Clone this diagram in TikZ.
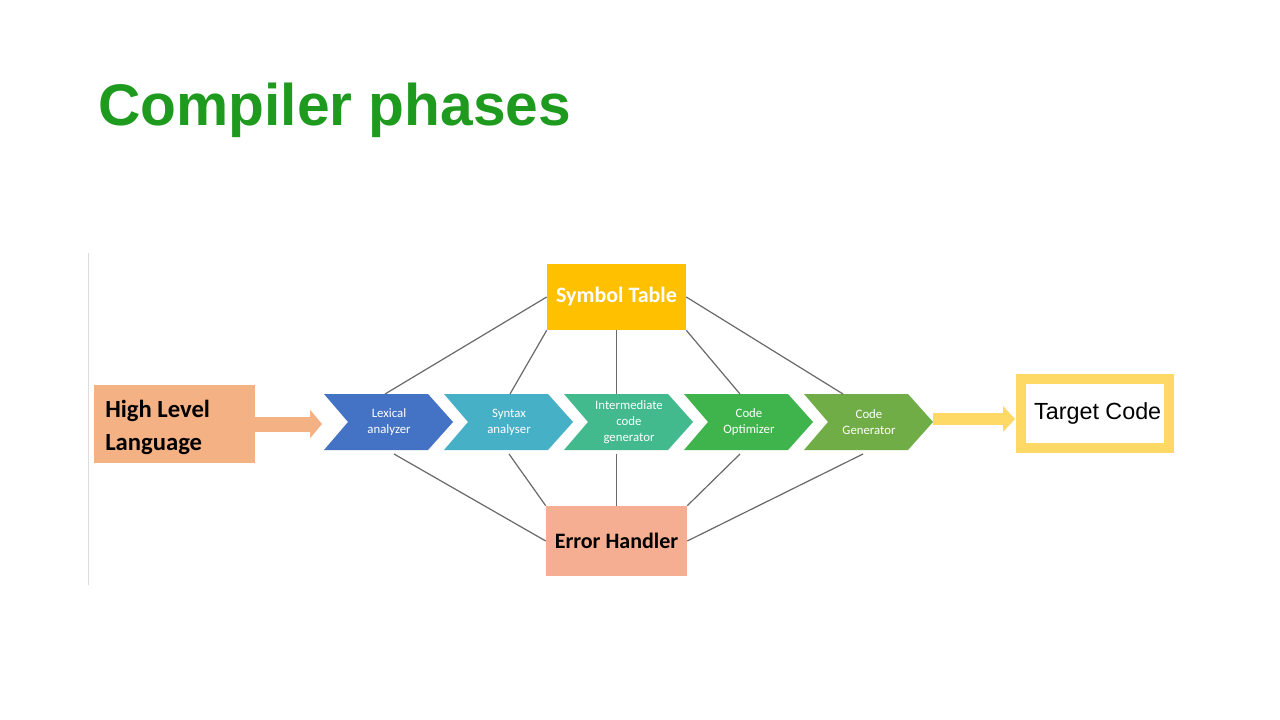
\documentclass[tikz,border=0pt]{standalone}
\usepackage{fontspec}
\setmainfont{Carlito}
\newfontfamily\arialfont{Liberation Sans}
\usetikzlibrary{arrows.meta}
\definecolor{titlegreen}{RGB}{30,154,30}
\definecolor{hllorange}{RGB}{244,177,131}
\definecolor{symyellow}{RGB}{255,192,0}
\definecolor{errsalmon}{RGB}{246,174,146}
\definecolor{tyellow}{RGB}{255,217,102}
\definecolor{conngray}{RGB}{105,105,105}
\definecolor{cLex}{RGB}{68,114,196}
\definecolor{cSyn}{RGB}{70,176,198}
\definecolor{cInt}{RGB}{66,186,142}
\definecolor{cOpt}{RGB}{64,180,76}
\definecolor{cGen}{RGB}{112,173,71}
\begin{document}
\begin{tikzpicture}[x=0.75pt,y=-0.75pt,
  conn/.style={draw=conngray, line width=0.9pt},
  chevtext/.style={text=white, align=center, inner sep=0, font=\fontsize{9.6}{12}\selectfont},
  boldbox/.style={inner sep=0, font=\bfseries\fontsize{16.5}{20}\selectfont}
]
\useasboundingbox (0,0) rectangle (1280,720);
\fill[white] (0,0) rectangle (1280,720);

% title
\node[anchor=base west, inner sep=0, text=titlegreen, font=\arialfont\bfseries\fontsize{44}{50}\selectfont] (title) at (98,126) {Compiler phases};

% faint vertical rule
\draw[draw={rgb,255:red,220;green,220;blue,220}, line width=0.75pt] (88,253) -- (88,585);

% high level language box
\node[fill=hllorange, minimum width=161*0.75pt, minimum height=78*0.75pt, inner sep=0] (hll) at (174.5,424) {};
\node[anchor=base west, inner sep=0, align=left, font=\bfseries\fontsize{18.5}{24.75}\selectfont] (hlltext) at (105,450) {High Level\\Language};

% chevrons
\fill[cLex] (324,394) -- (428,394) -- (453,422) -- (428,450) -- (324,450) -- (348,422) -- cycle;
\fill[cSyn] (444,394) -- (548,394) -- (573,422) -- (548,450) -- (444,450) -- (468,422) -- cycle;
\fill[cInt] (564,394) -- (668,394) -- (693,422) -- (668,450) -- (564,450) -- (588,422) -- cycle;
\fill[cOpt] (684,394) -- (788,394) -- (813,422) -- (788,450) -- (684,450) -- (708,422) -- cycle;
\fill[cGen] (804,394) -- (908,394) -- (933,422) -- (908,450) -- (804,450) -- (828,422) -- cycle;
\node[chevtext] (lex) at (389,422) {Lexical\\analyzer};
\node[chevtext] (syn) at (509,422) {Syntax\\analyser};
\node[chevtext] (int) at (629,422) {Intermediate\\code\\generator};
\node[chevtext] (opt) at (749,422) {Code\\Optimizer};
\node[chevtext] (gen) at (869,422) {Code\\Generator};

% connector end points on chevrons
\coordinate (lexT) at (385,394); \coordinate (lexB) at (394,454);
\coordinate (synT) at (510,394); \coordinate (synB) at (509,454);
\coordinate (intT) at (616.5,394); \coordinate (intB) at (616.5,454);
\coordinate (optT) at (740,394); \coordinate (optB) at (740,454);
\coordinate (genT) at (843,394); \coordinate (genB) at (863,454);
\coordinate (lexin) at (322,424);
\coordinate (genout) at (933,419);
\coordinate (tgtin) at (1015,419);

% symbol table and error handler
\node[boldbox, fill=symyellow, text=white, minimum width=139*0.75pt, minimum height=66*0.75pt] (sym) at (616.5,297) {Symbol Table};
\node[boldbox, fill=errsalmon, text=black, minimum width=141*0.75pt, minimum height=70*0.75pt] (err) at (616.5,541) {Error Handler};

% target code
\node[draw=tyellow, line width=7.5pt, fill=white, minimum width=148.5*0.75pt, minimum height=68.5*0.75pt, inner sep=0, font=\arialfont\fontsize{17.5}{20}\selectfont] (tgt) at (1095,413.7) {\hspace{4pt}Target Code};

% connectors
\draw[conn] (sym.west) -- (lexT);
\draw[conn] (sym.south west) -- (synT);
\draw[conn] (sym.south) -- (intT);
\draw[conn] (sym.south east) -- (optT);
\draw[conn] (sym.east) -- (genT);
\draw[conn] (lexB) -- (err.west);
\draw[conn] (synB) -- (err.north west);
\draw[conn] (intB) -- (err.north);
\draw[conn] (optB) -- (err.north east);
\draw[conn] (genB) -- (err.east);

% big arrows
\draw[hllorange, line width=15*0.75pt, -{Triangle[length=9pt,width=21pt]}] (hll.east) -- (lexin);
\draw[tyellow, line width=12*0.75pt, -{Triangle[length=9pt,width=19pt]}] (genout) -- (tgtin);
\end{tikzpicture}
\end{document}
